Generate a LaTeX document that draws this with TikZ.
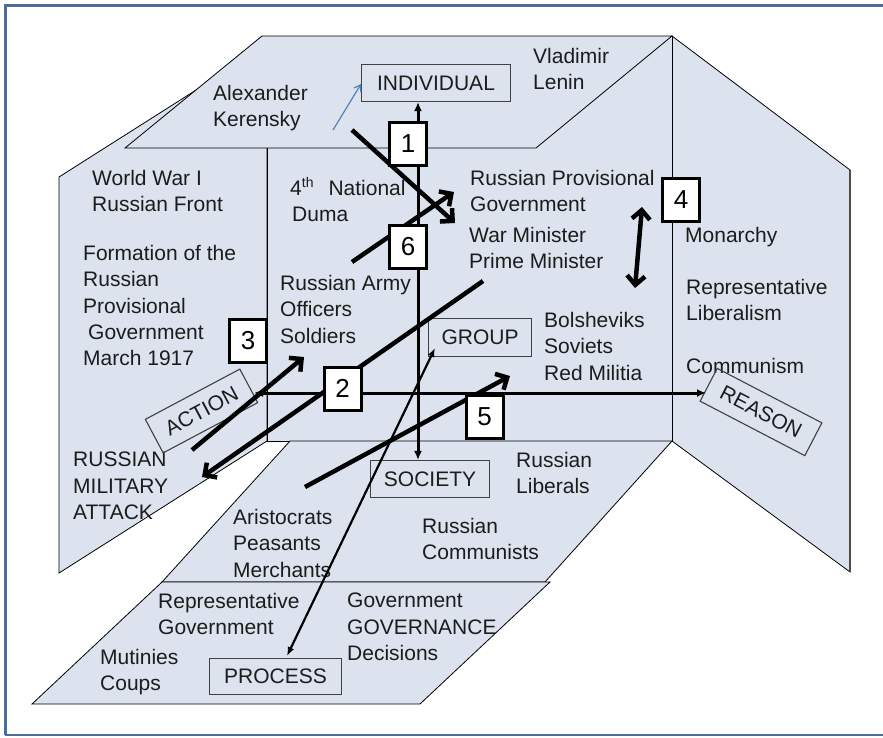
\documentclass[tikz,border=0pt]{standalone}
\usepackage{fontspec}
\setmainfont{Liberation Sans}
\usetikzlibrary{arrows.meta}
\definecolor{panel}{RGB}{220,227,238}
\definecolor{frameblue}{RGB}{74,108,160}
\definecolor{linkblue}{RGB}{79,129,189}
\definecolor{ink}{RGB}{28,28,28}

\begin{document}
\begin{tikzpicture}[x=1pt,y=-1pt,
  face/.style={fill=panel,draw=black,line width=0.8pt,line join=miter},
  lbl/.style={anchor=north west,inner sep=0pt,align=left,text=ink,
    font=\fontsize{21}{26.3}\selectfont},
  axisbox/.style={draw=black!75,line width=1.1pt,inner sep=0pt,text=ink,
    font=\fontsize{21}{25}\selectfont},
  numbox/.style={draw=black,fill=white,line width=3pt,minimum width=37pt,
    minimum height=43pt,inner sep=0pt,text=black,font=\fontsize{26}{30}\selectfont},
  axisline/.style={line width=3pt,{Latex[length=9pt,width=8pt]}-{Latex[length=9pt,width=8pt]}},
  thinlink/.style={line width=2.2pt,{Latex[length=9pt,width=7pt]}-{Latex[length=9pt,width=7pt]}},
  move/.style={line width=4.5pt,-{Straight Barb[length=9pt,width=18pt]}},
  twoway/.style={line width=4.5pt,{Straight Barb[length=9pt,width=18pt]}-{Straight Barb[length=9pt,width=18pt]}}
]
\useasboundingbox (0,0) rectangle (883,737);

% page frame
\draw[frameblue,line width=3pt] (890,5) -- (5,5) -- (5,735);
\draw[frameblue,line width=2pt] (5,735) -- (890,735);

% room: side walls, back wall, ceiling and two floor levels
\draw[face] (59,177) -- (267,45) -- (267,441) -- (59,573) -- cycle;
\draw[face] (672,36) -- (850,170) -- (850,572) -- (672,441) -- cycle;
\draw[black!70,line width=1.6pt] (850,170) -- (850,572);
\draw[face] (267,36) rectangle (672,441);
\draw[face] (125,148) -- (262,36) -- (672,36) -- (536,148) -- cycle;
\draw[face] (162,582) -- (290,441) -- (672,441) -- (545,582) -- cycle;
\draw[face] (32,704) -- (162,582) -- (550,582) -- (420,704) -- cycle;

% labels on the walls and floors
\node[lbl] (kerensky) at (213,85) {Alexander\\Kerensky};
\node[lbl] (lenin) at (533,48) {Vladimir\\Lenin};
\node[lbl] (front) at (92,170) {World War I\\Russian Front};
\node[lbl] (duma) at (290,180) {4\smash{\raisebox{8pt}{\fontsize{14}{14}\selectfont th}}\hspace{15pt}National\\[0pt]\hspace{2pt}Duma};
\node[lbl] (formation) at (83,245) {Formation of the\\Russian\\Provisional\\\hspace{5pt}Government\\March 1917};
\node[lbl] (army) at (280,275) {Russian Army\\Officers\\Soldiers};
\node[lbl] (provgov) at (470,170) {Russian Provisional\\Government};
\node[lbl] (ministers) at (469,227) {War Minister\\Prime Minister};
\node[lbl] (monarchy) at (685,227) {Monarchy};
\node[lbl] (liberalism) at (686,279) {Representative\\Liberalism};
\node[lbl] (communism) at (686,358) {Communism};
\node[lbl] (bolsheviks) at (544,312) {Bolsheviks\\Soviets\\Red Militia};
\node[lbl] (attack) at (73,452) {RUSSIAN\\MILITARY\\ATTACK};
\node[lbl] (liberals) at (516,452) {Russian\\Liberals};
\node[lbl] (classes) at (233,509) {Aristocrats\\Peasants\\Merchants};
\node[lbl] (communists) at (422,518) {Russian\\Communists};
\node[lbl] (repgov) at (158,593) {Representative\\Government};
\node[lbl] (governance) at (347,593) {Government\\GOVERNANCE\\Decisions};
\node[lbl] (mutinies) at (100,649) {Mutinies\\Coups};

% axis labels
\node[axisbox,minimum width=149pt,minimum height=37pt] (individual) at (436,83) {INDIVIDUAL};
\node[axisbox,minimum width=103pt,minimum height=38pt] (group) at (480,337.5) {GROUP};
\node[axisbox,minimum width=119pt,minimum height=37pt] (society) at (430,479) {SOCIETY};
\node[axisbox,minimum width=132pt,minimum height=36pt] (process) at (275.5,676.5) {PROCESS};
\node[axisbox,minimum width=107pt,minimum height=38pt,rotate=28] (action) at (201.5,411) {ACTION};
\node[axisbox,minimum width=118pt,minimum height=37pt,rotate=-27.5] (reason) at (761,412) {REASON};

% axis end points
\coordinate (vx) at (418,300);
\coordinate (actTip) at (254,393);
\coordinate (reaTip) at (706,393);
\coordinate (grpTip) at (435,348);
\coordinate (proTip) at (287,656);
\coordinate (kerFrom) at (333,130);
\coordinate (kerTo) at (361,84);

% axes
\draw[axisline] (individual.south -| vx) -- (society.north -| vx);
\draw[axisline] (actTip) -- (reaTip);
\draw[thinlink] (grpTip) -- (proTip);
\draw[linkblue,line width=1.2pt,-{Straight Barb[length=6pt,width=8pt]}] (kerFrom) -- (kerTo);

% numbered movements
\coordinate (m1a) at (352,130);  \coordinate (m1b) at (455,223);
\coordinate (m6a) at (352,262);  \coordinate (m6b) at (454,192);
\coordinate (m4a) at (635,288);  \coordinate (m4b) at (642,207);
\coordinate (m2a) at (483,281);  \coordinate (m2b) at (202,477);
\coordinate (m3a) at (192,450);  \coordinate (m3b) at (304,357);
\coordinate (m5a) at (305,487);  \coordinate (m5b) at (510,376);
\draw[move] (m1a) -- (m1b);
\draw[move] (m6a) -- (m6b);
\draw[twoway] (m4a) -- (m4b);
\draw[move] (m2a) -- (m2b);
\draw[move] (m3a) -- (m3b);
\draw[move] (m5a) -- (m5b);

% step numbers
\node[numbox] (n1) at (408,143.5) {1};
\node[numbox] (n6) at (408,246.5) {6};
\node[numbox] (n3) at (248,341) {3};
\node[numbox] (n2) at (342.5,388.5) {2};
\node[numbox] (n5) at (484.5,417) {5};
\node[numbox] (n4) at (681,200) {4};
\end{tikzpicture}
\end{document}
